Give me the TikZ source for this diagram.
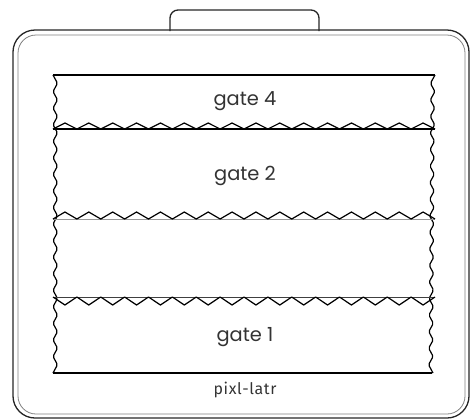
\documentclass[tikz,border=0pt]{standalone}
\usepackage{fontspec}
\setmainfont{Poppins}
\newfontfamily\labfont[LetterSpace=4]{Fira Sans}
\begin{document}
\begin{tikzpicture}[x=1bp,y=-1bp,
  outerline/.style={line width=1.3bp, black!85},
  innerline/.style={line width=0.8bp, black!50},
  edgeline/.style={line width=1.2bp, black, line join=round},
  gatelabel/.style={font=\fontsize{19.5}{22}\selectfont, text=black!80, inner sep=0pt},
  brandlabel/.style={font=\labfont\fontsize{16}{18}\selectfont, text=black!80, inner sep=0pt}]
\useasboundingbox (0,0) rectangle (470,419);
% handle
\draw[outerline, rounded corners=8bp] (170,31) -- (170,10) -- (319,10) -- (319,31);
% frame
\draw[outerline, rounded corners=22bp] (13,30) rectangle (469,418);
\draw[innerline, rounded corners=18bp] (18,35) rectangle (465,414);
% strip outline
\draw[edgeline] (53,75) -- (435,75);
\draw[edgeline] (53,373) -- (432,373);
\draw[edgeline, rounded corners=1.5bp] (53,75)
  \foreach \i in {0,...,17} { -- (57.5,{75+(\i+0.5)*16.555}) -- (53,{75+(\i+1)*16.555}) };
\draw[edgeline, rounded corners=1.5bp] (435,75)
  \foreach \i in {0,...,17} { -- ({430.5-2*(\i+0.5)/18},{75+(\i+0.5)*16.555}) -- ({435-2*(\i+1)/18},{75+(\i+1)*16.555}) };
% separator gate 4 / gate 2
\draw[edgeline] (53,129) -- (435,129);
\draw[edgeline] (53,129)
  \foreach \i in {0,...,15} { -- ({53+(\i+0.5)*23.875},123) -- ({53+(\i+1)*23.875},129) };
% separator gate 2 / empty
\draw[line width=0.8bp, black!40] (53,219) -- (435,219);
\draw[edgeline] (53,219)
  \foreach \i in {0,...,15} { -- ({53+(\i+0.5)*23.875},212) -- ({53+(\i+1)*23.875},219) };
% separator empty / gate 1
\draw[line width=1bp, black!75] (53,297) -- (435,297);
\draw[edgeline] (53,297)
  \foreach \i in {0,...,15} { -- ({53+(\i+0.5)*23.875},305) -- ({53+(\i+1)*23.875},297) };
% labels
\node[gatelabel] (g4) at (245,101) {gate 4};
\node[gatelabel] (g2) at (245,176) {gate 2};
\node[gatelabel] (g1) at (245,337) {gate 1};
\node[brandlabel] (brand) at (245,390) {pixl-latr};
\end{tikzpicture}
\end{document}
